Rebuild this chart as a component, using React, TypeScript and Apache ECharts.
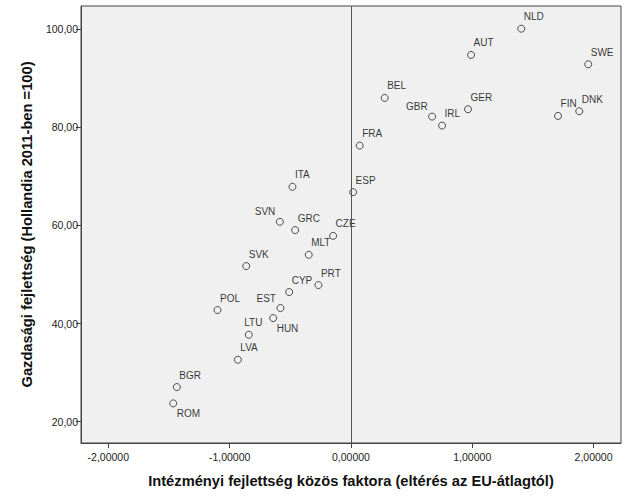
import React, { useEffect, useRef } from "react";
import * as echarts from "echarts";

const countries = ["NLD", "AUT", "SWE", "BEL", "GBR", "IRL", "GER", "FIN", "DNK", "FRA", "ESP", "ITA", "SVN", "GRC", "CZE", "MLT", "SVK", "PRT", "CYP", "EST", "POL", "HUN", "LTU", "LVA", "BGR", "ROM"];
const institutionFactor = [1.404, 0.99, 1.956, 0.278, 0.669, 0.751, 0.965, 1.707, 1.882, 0.072, 0.018, -0.482, -0.586, -0.46, -0.147, -0.348, -0.863, -0.268, -0.509, -0.581, -1.1, -0.641, -0.842, -0.932, -1.435, -1.465];
const economicLevel = [100.06, 94.71, 92.81, 85.95, 82.15, 80.32, 83.65, 82.29, 83.25, 76.24, 66.76, 67.84, 60.71, 59.02, 57.86, 54.0, 51.7, 47.83, 46.4, 43.14, 42.74, 41.11, 37.71, 32.62, 27.06, 23.73];
// label placement: tr = above right, tl = above left, br = below right, tc = above centred
const labelPlacement = ["tr", "tr", "tr", "tr", "tl", "tr", "tr", "tr", "tr", "tr", "tr", "tr", "tl", "tr", "tr", "tr", "tr", "tr", "tr", "tl", "tr", "br", "tc", "tr", "tr", "br"];
const xTicks = [-2, -1, 0, 1, 2];
const yTicks = [20, 40, 60, 80, 100];

const font = "Arial, 'Liberation Sans', sans-serif";

function labelFor(p: string) {
  const base = {
    show: true,
    distance: 0,
    formatter: "{b}",
    fontFamily: font,
    fontSize: 10,
    color: "#000",
    textBorderWidth: 0,
  };
  if (p === "tl") return { ...base, position: "left", offset: [-0.5, -10] };
  if (p === "br") return { ...base, position: "right", offset: [-0.5, 10.5] };
  if (p === "tc") return { ...base, position: "right", offset: [-8.5, -12] };
  return { ...base, position: "right", offset: [-1.5, -12] };
}

export default function App() {
  const ref = useRef<HTMLDivElement>(null);
  useEffect(() => {
    if (!ref.current) return;
    const chart = echarts.init(ref.current, null, { renderer: "svg" });
    const data = countries.map((c, i) => ({
      name: c,
      value: [institutionFactor[i], economicLevel[i]],
      label: labelFor(labelPlacement[i]),
    }));
    chart.setOption({
      animation: false,
      backgroundColor: "#ffffff",
      grid: {
        left: 81,
        right: 8,
        top: 6,
        bottom: 61,
        show: true,
        backgroundColor: "#F0F0F0",
        borderColor: "#444",
        borderWidth: 1,
      },
      xAxis: {
        type: "value",
        min: -2.225,
        max: 2.226,
        name: "Intézményi fejlettség közös faktora (eltérés az EU-átlagtól)",
        nameLocation: "middle",
        nameGap: 30,
        nameTextStyle: { fontFamily: font, fontSize: 14.7, fontWeight: "bold", color: "#111" },
        axisLine: { show: true, onZero: false, lineStyle: { color: "#444" } },
        axisTick: { show: true, length: 5, customValues: xTicks, lineStyle: { color: "#444" } },
        axisLabel: {
          customValues: xTicks,
          margin: 8,
          fontFamily: font,
          fontSize: 10.5,
          color: "#222",
          formatter: (v: number) => v.toFixed(5).replace(".", ","),
        },
        splitLine: { show: false },
      },
      yAxis: {
        type: "value",
        min: 15.66,
        max: 104.68,
        name: "Gazdasági fejlettség (Hollandia 2011-ben =100)",
        nameLocation: "middle",
        nameRotate: 90,
        nameGap: 42,
        nameTextStyle: { fontFamily: font, fontSize: 14.7, fontWeight: "bold", color: "#111" },
        axisLine: { show: true, onZero: false, lineStyle: { color: "#444" } },
        axisTick: { show: true, length: 5, customValues: yTicks, lineStyle: { color: "#444" } },
        axisLabel: {
          customValues: yTicks,
          margin: 3,
          fontFamily: font,
          fontSize: 10.5,
          color: "#222",
          formatter: (v: number) => v.toFixed(2).replace(".", ","),
        },
        splitLine: { show: false },
      },
      series: [
        {
          type: "scatter",
          symbol: "circle",
          symbolSize: 7,
          itemStyle: { color: "rgba(0,0,0,0)", borderColor: "#222", borderWidth: 1 },
          label: {
            show: true,
            formatter: "{b}",
            fontFamily: font,
            fontSize: 10,
            color: "#000",
          },
          data,
          markLine: {
            silent: true,
            symbol: "none",
            label: { show: false },
            lineStyle: { color: "#555", width: 1, type: "solid" },
            data: [{ xAxis: 0 }],
          },
        },
      ],
    });
    return () => chart.dispose();
  }, []);
  return <div ref={ref} style={{ width: 629, height: 504, position: "absolute", left: 0, top: 0 }} />;
}
